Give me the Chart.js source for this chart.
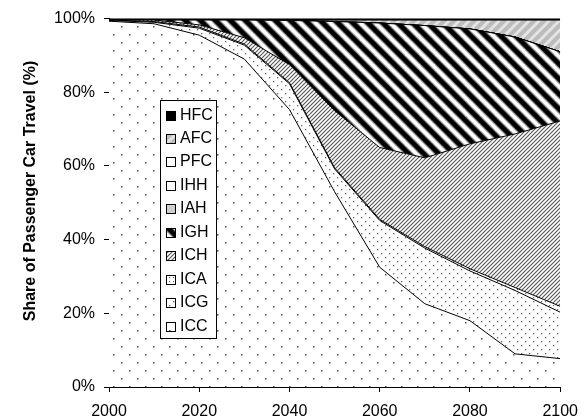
<!DOCTYPE html>
<html>
<head>
<meta charset="utf-8">
<script src="https://cdn.jsdelivr.net/npm/chart.js@4.4.1/dist/chart.umd.min.js"></script>
<style>
  body { margin: 0; background: #fff; }
  canvas { display: block; }
</style>
</head>
<body>
<canvas id="chart" width="588" height="418"></canvas>
<script>
// Years (one point per decade)
const years = [2000, 2010, 2020, 2030, 2040, 2050, 2060, 2070, 2080, 2090, 2100];

// Share of passenger car travel per technology (%), bottom of the stack first
const icc = [99.3, 98.6, 95.5, 89.0, 75.3, 53.0, 32.5, 22.6, 18.0, 9.0, 7.7];
const icg = [0.2, 0.4, 1.9, 3.8, 7.0, 6.2, 12.7, 15.1, 13.5, 17.2, 12.6];
const ica = [0.1, 0.2, 0.3, 0.3, 0.3, 0.3, 0.3, 0.4, 0.6, 0.8, 1.6];
const ich = [0.0, 0.4, 0.6, 1.7, 4.9, 15.5, 19.5, 24.1, 33.9, 41.7, 50.3];
const igh = [0.0, 0.0, 1.3, 4.8, 12.0, 24.2, 33.8, 35.9, 31.2, 26.3, 18.8];
const iah = [0, 0, 0, 0, 0, 0, 0, 0, 0, 0, 0];
const ihh = [0, 0, 0, 0, 0, 0, 0, 0, 0, 0, 0];
const pfc = [0, 0, 0, 0, 0, 0, 0, 0, 0, 0, 0];
const afc = [0.0, 0.0, 0.0, 0.0, 0.1, 0.4, 0.8, 1.5, 2.4, 4.6, 8.6];
const hfc = [0.4, 0.4, 0.4, 0.4, 0.4, 0.4, 0.4, 0.4, 0.4, 0.4, 0.4];

const seriesNames = ['ICC', 'ICG', 'ICA', 'ICH', 'IGH', 'IAH', 'IHH', 'PFC', 'AFC', 'HFC'];
const seriesValues = [icc, icg, ica, ich, igh, iah, ihh, pfc, afc, hfc];

const yTitle = 'Share of Passenger Car Travel (%)';
const fontFamily = '"Liberation Sans", Arial, sans-serif';

const ctx = document.getElementById('chart').getContext('2d');

// Fill patterns, built on small tiles
function tile(w, h, draw) {
  const c = document.createElement('canvas');
  c.width = w;
  c.height = h;
  draw(c.getContext('2d'), w, h);
  return ctx.createPattern(c, 'repeat');
}

function dots(size, pts, color, r) {
  return tile(size, size, (g) => {
    g.fillStyle = '#fff';
    g.fillRect(0, 0, size, size);
    g.fillStyle = color;
    pts.forEach(([x, y]) => g.fillRect(x, y, r, r));
  });
}

function stripes(size, dir, layers, bg) {
  return tile(size, size, (g) => {
    g.fillStyle = bg;
    g.fillRect(0, 0, size, size);
    layers.forEach(([width, color]) => {
      g.strokeStyle = color;
      g.lineWidth = width;
      for (let k = -1; k <= 1; k++) {
        g.beginPath();
        if (dir === '\\') {
          g.moveTo(-2, k * size - 2);
          g.lineTo(size + 2, size + k * size + 2);
        } else {
          g.moveTo(-2, size + k * size + 2);
          g.lineTo(size + 2, k * size - 2);
        }
        g.stroke();
      }
    });
  });
}

const fills = {
  ICC: dots(16, [[1, 2], [9, 10]], '#555', 1.5),
  ICG: dots(8, [[1, 1], [5, 5]], '#666', 1.3),
  ICA: dots(4, [[1, 1]], '#666', 1.2),
  ICH: stripes(4, '/', [[1.1, '#555']], '#fff'),
  IGH: stripes(15, '\\', [[7, '#888'], [4.5, '#000']], '#fff'),
  IAH: '#cfcfcf',
  IHH: '#fff',
  PFC: '#fff',
  AFC: stripes(10, '/', [[3, '#e4e4e4']], '#bcbcbc'),
  HFC: '#000',
};

const datasets = seriesNames.map((name, i) => ({
  label: name,
  data: years.map((yr, j) => ({ x: yr, y: seriesValues[i][j] })),
  backgroundColor: fills[name],
  borderColor: '#000',
  borderWidth: 1,
  pointRadius: 0,
  tension: 0,
  fill: i === 0 ? 'origin' : '-1',
}));

// Legend box and y title drawn over the plot
const overlay = {
  id: 'overlay',
  afterDraw(chart) {
    const g = chart.ctx;
    g.save();
    g.fillStyle = '#000';
    g.font = 'bold 16px ' + fontFamily;
    g.textAlign = 'center';
    g.textBaseline = 'alphabetic';
    g.translate(35, 191);
    g.rotate(-Math.PI / 2);
    g.fillText(yTitle, 0, 0);
    g.restore();

    g.save();
    g.fillStyle = '#fff';
    g.fillRect(160.5, 100.5, 56, 238);
    g.strokeStyle = '#000';
    g.lineWidth = 1;
    g.strokeRect(160.5, 100.5, 56, 238);
    g.font = '16px ' + fontFamily;
    g.textAlign = 'left';
    g.textBaseline = 'middle';
    const n = chart.data.datasets.length;
    for (let k = 0; k < n; k++) {
      const ds = chart.data.datasets[n - 1 - k];
      const yc = Math.round(115.5 + k * 23.46);
      g.fillStyle = ds.backgroundColor;
      g.fillRect(166, yc - 5, 10, 10);
      g.strokeStyle = '#000';
      g.strokeRect(166.5, yc - 4.5, 9, 9);
      g.fillStyle = '#000';
      g.fillText(ds.label, 180, yc);
    }
    g.restore();
  },
};

Chart.defaults.font.family = fontFamily;
Chart.defaults.font.size = 16;
Chart.defaults.color = '#000';

new Chart(ctx, {
  type: 'line',
  data: { datasets },
  options: {
    responsive: false,
    animation: false,
    layout: { padding: { top: 17, right: 24, left: 0, bottom: 0 } },
    plugins: {
      legend: { display: false },
      tooltip: { enabled: false },
    },
    scales: {
      x: {
        type: 'linear',
        min: 2000,
        max: 2100,
        ticks: { stepSize: 20, padding: 10, callback: (v) => String(v) },
        grid: { drawOnChartArea: false, tickLength: 5, color: '#000' },
        border: { color: '#000', width: 1 },
        afterFit: (scale) => { scale.height = 31; },
      },
      y: {
        stacked: true,
        min: 0,
        max: 100,
        ticks: { stepSize: 20, padding: 9, callback: (v) => v + '%' },
        grid: { drawOnChartArea: false, tickLength: 5, color: '#000' },
        border: { color: '#000', width: 1 },
        afterFit: (scale) => { scale.width = 109; },
      },
    },
  },
  plugins: [overlay],
});
</script>
</body>
</html>
